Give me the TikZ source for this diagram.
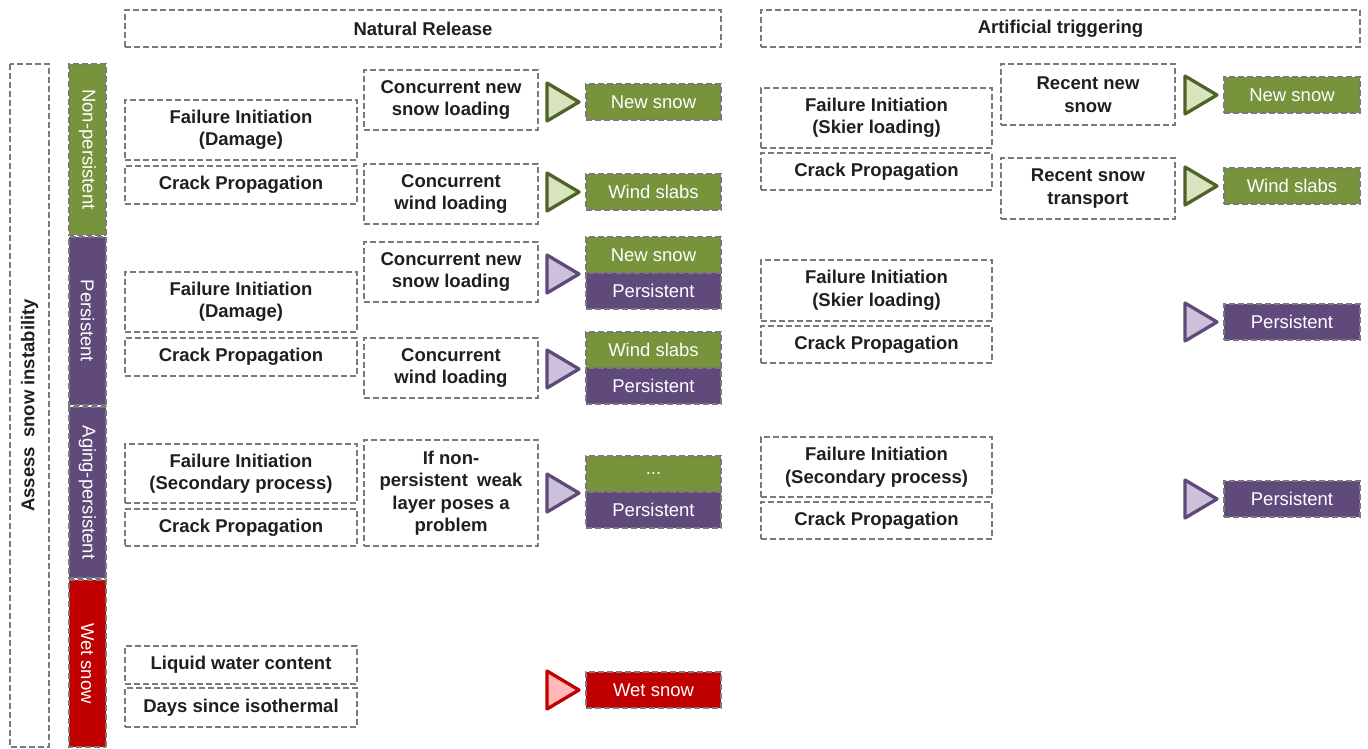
\documentclass[tikz,border=0pt]{standalone}
\usepackage{fontspec}
\setmainfont{Liberation Sans}
\usetikzlibrary{positioning}
\usetikzlibrary{calc}
\definecolor{leafgreen}{HTML}{77933C}
\definecolor{leafdark}{HTML}{4F6228}
\definecolor{leaflight}{HTML}{D7E4BD}
\definecolor{plum}{HTML}{604A7B}
\definecolor{plumdark}{HTML}{5F497A}
\definecolor{plumlight}{HTML}{CCC1DA}
\definecolor{wetred}{HTML}{C00000}
\definecolor{wetlight}{HTML}{FFB9B9}
\definecolor{boxgray}{HTML}{7A7A7A}
\tikzset{
    box/.style = {rectangle, draw=boxgray, line width=2pt, dash pattern=on 6pt off 3pt, fill=white, align=center, inner sep=2pt, text=black!88, font=\fontsize{18.5}{22.5}\selectfont\bfseries},
    header/.style = {box, minimum width=596pt, minimum height=37pt},
    assess/.style = {box, rotate=90, minimum width=683pt, minimum height=39pt},
    bar/.style = {box, rotate=-90, text=white, minimum height=37pt, font=\fontsize{18.5}{22.5}\selectfont},
    stage/.style = {box, minimum width=232pt},
    load/.style = {box, minimum width=174pt, minimum height=60pt},
    outbox/.style = {box, text=white, minimum width=135pt, minimum height=36pt, font=\fontsize{18.5}{22.5}\selectfont},
    outg/.style = {outbox, fill=leafgreen},
    outp/.style = {outbox, fill=plum},
    outr/.style = {outbox, fill=wetred},
    trig g/.style = {line width=3.3pt, line join=round, draw=leafdark, fill=leaflight},
    trig p/.style = {line width=3.3pt, line join=round, draw=plumdark, fill=plumlight},
    trig r/.style = {line width=3.3pt, line join=round, draw=wetred, fill=wetlight}
}
% triangle pointing at an output box
\newcommand{\trimark}[2]{\draw[#1] ($(#2)+(-38,-19)$) -- ($(#2)+(-6,0)$) -- ($(#2)+(-38,19)$) -- cycle;}

\begin{document}
\begin{tikzpicture}[x=1pt,y=-1pt]
\useasboundingbox (0,0) rectangle (1368,749);
%
\node[header] at (423, 28.5) (nat) {Natural Release};
\node[header, minimum width=599pt] at (1060.5, 28.5) (art) {Artificial triggering};
%
\node[assess] at (29.5, 405.5) (assess) {Assess\enspace snow instability};
\node[bar, fill=leafgreen, minimum width=171pt] at (87.5, 149.5) (np) {Non-persistent};
\node[bar, fill=plum, minimum width=168pt] at (87.5, 321) (pe) {Persistent};
\node[bar, fill=plum, minimum width=171pt] at (87.5, 492.5) (ap) {Aging-persistent};
\node[bar, fill=wetred, minimum width=167pt] at (87.5, 663.5) (ws) {Wet snow};
%
% natural release
\node[stage, minimum height=60pt] at (241, 130) (fi1) {Failure Initiation\\(Damage)};
\node[stage, minimum height=38pt] at (241, 185) (cp1) {Crack Propagation};
\node[load] at (451, 100) (cn1) {Concurrent new\\snow loading};
\node[load] at (451, 194) (cw1) {Concurrent\\wind loading};
\node[outg] at (653.5, 102) (o1) {New snow};
\node[outg] at (653.5, 192) (o2) {Wind slabs};
\trimark{trig g}{o1.west}
\trimark{trig g}{o2.west}
%
\node[stage, minimum height=60pt] at (241, 302) (fi2) {Failure Initiation\\(Damage)};
\node[stage, minimum height=38pt] at (241, 357) (cp2) {Crack Propagation};
\node[load] at (451, 272) (cn2) {Concurrent new\\snow loading};
\node[load] at (451, 368) (cw2) {Concurrent\\wind loading};
\node[outg] at (653.5, 255) (o3) {New snow};
\node[outp] at (653.5, 291) (o4) {Persistent};
\node[outg] at (653.5, 350) (o5) {Wind slabs};
\node[outp] at (653.5, 386) (o6) {Persistent};
\trimark{trig p}{o3.south west}
\trimark{trig p}{o5.south west}
%
\node[stage, minimum height=59pt] at (241, 473.5) (fi3) {Failure Initiation\\(Secondary process)};
\node[stage, minimum height=37pt] at (241, 527.5) (cp3) {Crack Propagation};
\node[load, minimum height=106pt] at (451, 493) (ifn) {If non-\\persistent\enspace weak\\layer poses a\\problem};
\node[outg] at (653.5, 474) (o7) {...};
\node[outp] at (653.5, 510) (o8) {Persistent};
\trimark{trig p}{o7.south west}
%
\node[stage, minimum height=38pt] at (241, 665) (lwc) {Liquid water content};
\node[stage, minimum height=39pt] at (241, 707.5) (dsi) {Days since isothermal};
\node[outr] at (653.5, 690) (o9) {Wet snow};
\trimark{trig r}{o9.west}
%
% artificial triggering
\node[stage, minimum width=231pt, minimum height=60pt] at (876.5, 118) (af1) {Failure Initiation\\(Skier loading)};
\node[stage, minimum width=231pt, minimum height=37pt] at (876.5, 171.5) (ac1) {Crack Propagation};
\node[load, minimum height=61pt] at (1088, 94.5) (rn) {Recent new\\snow};
\node[load, minimum height=61pt] at (1088, 188.5) (rt) {Recent snow\\transport};
\node[outg, minimum width=136pt] at (1292, 95) (ao1) {New snow};
\node[outg, minimum width=136pt] at (1292, 186) (ao2) {Wind slabs};
\trimark{trig g}{ao1.west}
\trimark{trig g}{ao2.west}
%
\node[stage, minimum width=231pt, minimum height=61pt] at (876.5, 290.5) (af2) {Failure Initiation\\(Skier loading)};
\node[stage, minimum width=231pt, minimum height=37pt] at (876.5, 344.5) (ac2) {Crack Propagation};
\node[outp, minimum width=136pt] at (1292, 322) (ao3) {Persistent};
\trimark{trig p}{ao3.west}
%
\node[stage, minimum width=231pt, minimum height=60pt] at (876.5, 467) (af3) {Failure Initiation\\(Secondary process)};
\node[stage, minimum width=231pt, minimum height=37pt] at (876.5, 520.5) (ac3) {Crack Propagation};
\node[outp, minimum width=136pt] at (1292, 499) (ao4) {Persistent};
\trimark{trig p}{ao4.west}

\end{tikzpicture}
\end{document}
